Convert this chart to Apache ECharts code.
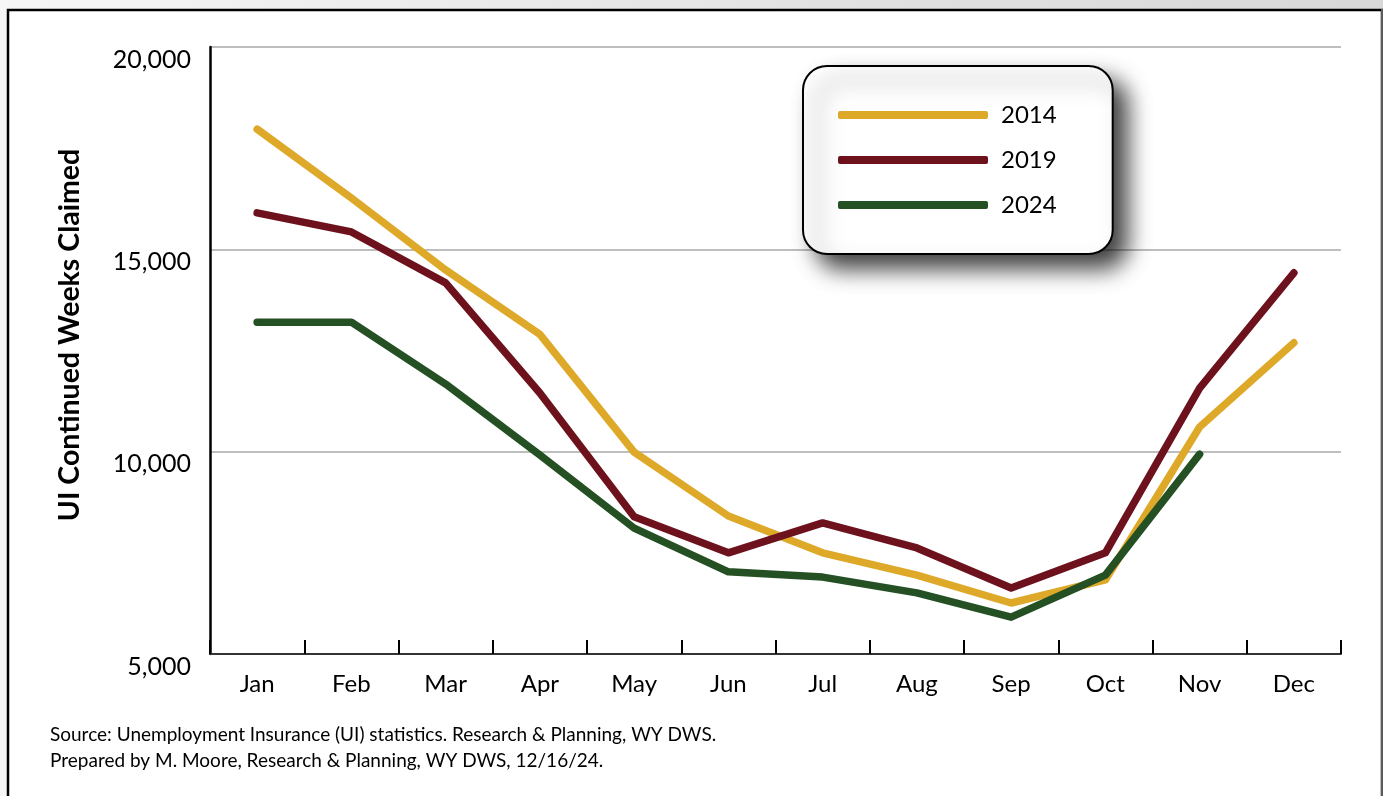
<!DOCTYPE html>
<html>
<head>
<meta charset="utf-8">
<title>UI Continued Weeks Claimed</title>
<script src="https://cdn.jsdelivr.net/npm/echarts@6/dist/echarts.min.js"></script>
<style>
  html, body { margin: 0; padding: 0; }
  body { background: linear-gradient(90deg, #f6f6f6 0%, #e2e2e2 60%, #d8d8d8 100%); }
  #chart { width: 1383px; height: 796px; }
</style>
</head>
<body>
<div id="chart"></div>
<script>
// Monthly UI continued weeks claimed, Wyoming
const months = ['Jan', 'Feb', 'Mar', 'Apr', 'May', 'Jun', 'Jul', 'Aug', 'Sep', 'Oct', 'Nov', 'Dec'];
const claims2014 = [17970, 16270, 14490, 12900, 9990, 8410, 7500, 6950, 6260, 6830, 10610, 12690];
const claims2019 = [15900, 15430, 14170, 11450, 8390, 7500, 8240, 7620, 6630, 7500, 11570, 14420];
const claims2024 = [13200, 13200, 11670, 9920, 8110, 7030, 6900, 6510, 5910, 6950, 9940];
const yTicks = { min: 5000, max: 20000, step: 5000 };
const seriesColors = { '2014': '#DEA928', '2019': '#6D111D', '2024': '#245023' };

const fontFamily = 'Lato, "Open Sans", sans-serif';

const chart = echarts.init(document.getElementById('chart'), null, { renderer: 'canvas' });

function lineSeries(name, data) {
  return {
    name: name,
    type: 'line',
    data: data,
    symbol: 'none',
    smooth: false,
    lineStyle: { width: 7.5, color: seriesColors[name], cap: 'round', join: 'round' },
    itemStyle: { color: seriesColors[name] },
    emphasis: { disabled: true }
  };
}

chart.setOption({
  backgroundColor: 'transparent',
  animation: false,
  textStyle: { fontFamily: fontFamily },
  graphic: [
    {
      type: 'rect',
      z: -10,
      silent: true,
      shape: { x: 8, y: 10, width: 1374, height: 800 },
      style: { fill: '#ffffff', stroke: '#000000', lineWidth: 2.5 }
    },
    {
      type: 'line',
      z: -9,
      silent: true,
      shape: { x1: 1382, y1: 9, x2: 1382, y2: 796 },
      style: { stroke: '#7a7a7a', lineWidth: 1.5 }
    },
    {
      type: 'text',
      silent: true,
      x: 70,
      y: 335,
      rotation: Math.PI / 2,
      style: {
        text: 'UI Continued Weeks Claimed',
        fontFamily: fontFamily,
        fontWeight: 'bold',
        fontSize: 28.5,
        fill: '#000000',
        align: 'center',
        verticalAlign: 'middle'
      }
    },
    {
      type: 'text',
      silent: true,
      x: 50,
      y: 735,
      style: {
        text: 'Source: Unemployment Insurance (UI) statistics. Research & Planning, WY DWS.',
        fontFamily: fontFamily,
        fontSize: 19,
        fill: '#000000',
        verticalAlign: 'middle'
      }
    },
    {
      type: 'text',
      silent: true,
      x: 50,
      y: 761,
      style: {
        text: 'Prepared by M. Moore, Research & Planning, WY DWS, 12/16/24.',
        fontFamily: fontFamily,
        fontSize: 19,
        fill: '#000000',
        verticalAlign: 'middle'
      }
    }
  ],
  grid: { left: 210, right: 42, top: 47, bottom: 142, containLabel: false },
  legend: {
    orient: 'vertical',
    left: 803,
    top: 66,
    data: ['2014', '2019', '2024'],
    icon: 'roundRect',
    itemWidth: 150,
    itemHeight: 8,
    itemGap: 21,
    padding: [37, 56, 37, 35],
    backgroundColor: '#ffffff',
    borderColor: '#000000',
    borderWidth: 2,
    borderRadius: 24,
    shadowColor: 'rgba(0,0,0,0.75)',
    shadowBlur: 22,
    shadowOffsetX: 14,
    shadowOffsetY: 14,
    textStyle: { fontFamily: fontFamily, fontSize: 24, color: '#000000', padding: [0, 0, 0, 8] },
    selectedMode: false
  },
  xAxis: {
    type: 'category',
    data: months,
    boundaryGap: true,
    axisLine: { show: true, lineStyle: { color: '#333333', width: 2 } },
    axisTick: { show: true, inside: true, length: 14, alignWithLabel: false, lineStyle: { color: '#000000', width: 2 } },
    axisLabel: { color: '#000000', fontSize: 24, margin: 18, fontFamily: fontFamily },
    splitLine: { show: false }
  },
  yAxis: {
    type: 'value',
    min: yTicks.min,
    max: yTicks.max,
    interval: yTicks.step,
    axisLine: { show: true, lineStyle: { color: '#000000', width: 2.5 } },
    axisTick: { show: false },
    axisLabel: {
      color: '#000000',
      fontSize: 25,
      margin: 19,
      verticalAlign: 'top',
      fontFamily: fontFamily,
      formatter: function (v) { return v.toLocaleString('en-US'); }
    },
    splitLine: { show: true, lineStyle: { color: '#a8a8a8', width: 1.5 } }
  },
  series: [
    lineSeries('2014', claims2014),
    lineSeries('2019', claims2019),
    lineSeries('2024', claims2024)
  ]
});
</script>
</body>
</html>
